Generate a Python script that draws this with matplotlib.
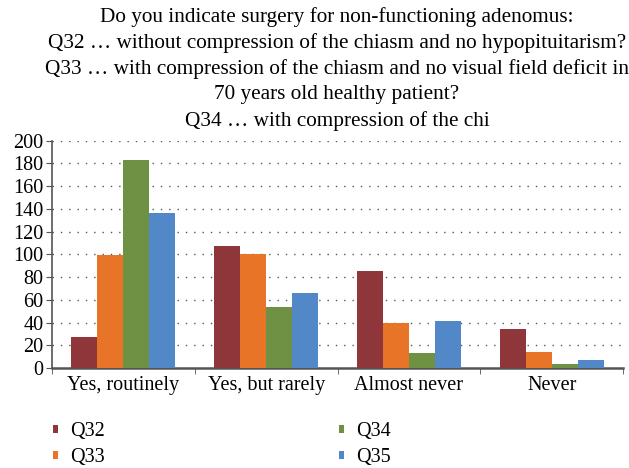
import numpy as np
import matplotlib.pyplot as plt

plt.rcParams['font.family'] = ['Liberation Serif', 'DejaVu Serif']

categories = ['Yes, routinely', 'Yes, but rarely', 'Almost never', 'Never']
q32 = [27, 107, 85, 34]
q33 = [99, 100, 40, 14]
q34 = [183, 54, 13, 3.5]
q35 = [136, 66, 41, 7]
series = ['Q32', 'Q33', 'Q34', 'Q35']
colors = ['#8E3639', '#E87428', '#6E9144', '#5388C8']

title_lines = ['Do you indicate surgery for non-functioning adenomus:',
               'Q32 \u2026 without compression of the chiasm and no hypopituitarism?',
               'Q33 \u2026 with compression of the chiasm and no visual field deficit in',
               '70 years old healthy patient?',
               'Q34 \u2026 with compression of the chi']

fig = plt.figure(figsize=(6.29, 4.68), dpi=100)
ax = fig.add_axes([52/629, 1-368/468, (623-52)/629, (368-140.6)/468])

x = np.arange(len(categories))
w = 0.182
for i, (vals, name, c) in enumerate(zip([q32, q33, q34, q35], series, colors)):
    ax.bar(x + (i - 1.5)*w, vals, w, color=c, label=name, zorder=3)

ax.set_xlim(-0.5, 3.5)
ax.set_ylim(0, 200)
ax.set_yticks(range(0, 201, 20))
ax.set_xticks(x)
ax.set_xticklabels(categories, fontsize=14.5)
ax.tick_params(axis='y', labelsize=14.5, length=4, color='#555555', pad=2)
ax.set_xticks(np.arange(-0.5, 4, 1), minor=True)
ax.tick_params(axis='x', which='major', length=0, pad=6)
ax.tick_params(axis='x', which='minor', length=4, color='#555555')
ax.grid(axis='y', linestyle=(0, (1, 5)), color='#555555', linewidth=1, zorder=0)
for s in ['top', 'right']:
    ax.spines[s].set_visible(False)
ax.spines['left'].set_color('#555555')
ax.spines['bottom'].set_color('#555555')
ax.spines['left'].set_linewidth(1.2)
ax.spines['bottom'].set_linewidth(1.8)

# title, one line at a time
ys = [17, 43, 69, 95, 121]
for t, yy in zip(title_lines, ys):
    fig.text(337/629, 1 - yy/468, t, ha='center', va='center', fontsize=15.3)

fig.legend(loc='center left', bbox_to_anchor=(45/629, 1 - 444.5/468), ncol=2, frameon=False,
           fontsize=14.5, handlelength=0.25, handleheight=0.25, handletextpad=0.6,
           columnspacing=11.6, labelspacing=0.35, borderaxespad=0)

fig.savefig('out.png', dpi=100)
